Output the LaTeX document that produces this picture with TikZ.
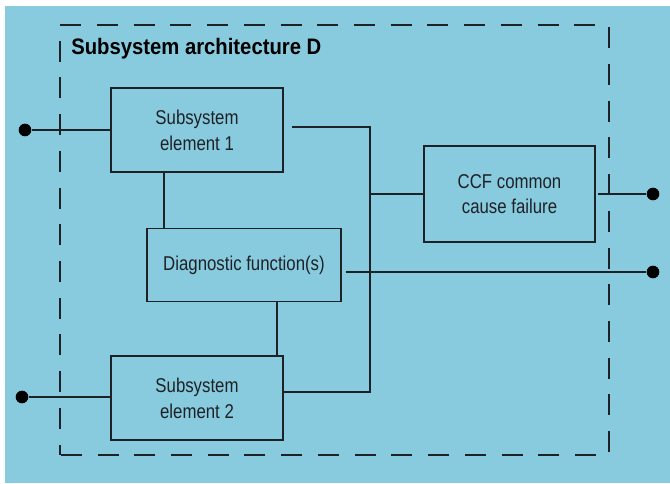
\documentclass[tikz,border=0pt]{standalone}
\usepackage{fontspec}
\setmainfont{Liberation Sans}[FakeStretch=0.84]
\newfontfamily\titlefont{Liberation Sans}[FakeStretch=0.905]
\definecolor{panelblue}{RGB}{136,203,222}
\definecolor{ink}{RGB}{30,34,38}

\begin{document}
\begin{tikzpicture}[x=0.75pt, y=-0.75pt,
    block/.style={draw=ink, line width=1pt, minimum width=#1, inner sep=0pt, align=center,
        text=ink, font=\fontsize{15}{19.3}\selectfont},
    wire/.style={draw=ink, line width=1pt},
    terminal/.style={circle, fill=black, inner sep=0pt, minimum size=9.5pt}]
    \fill[white] (0,0) rectangle (670,483);
    \fill[panelblue] (5,6) rectangle (670,483);

    % dashed boundary of the subsystem
    \draw[ink, line width=0.9pt, dash pattern=on 15.75pt off 11.8pt, dash phase=8pt]
        (60,455) -- (60,25) -- (609,25) -- (609,455) -- cycle;
    \node[anchor=base west, inner sep=0pt, text=black, font=\titlefont\bfseries\fontsize{16.8}{20}\selectfont]
        (title) at (71,54.5) {Subsystem architecture D};

    \node[block=129pt, minimum height=63pt] (elemA) at (197,130) {Subsystem\\element 1};
    \node[block=145.5pt, minimum height=55pt] (diag) at (244,265) {Diagnostic function(s)};
    \node[block=129pt, minimum height=63pt] (elemB) at (197,398) {Subsystem\\element 2};
    \node[block=128.25pt, minimum height=72pt] (ccf) at (509.5,194) {CCF common\\cause failure};

    \node[terminal] (inA) at (25,130) {};
    \node[terminal] (inB) at (22,397) {};
    \node[terminal] (outA) at (653,194) {};
    \node[terminal] (outB) at (653,272) {};

    \coordinate (jtop) at (370,127);
    \coordinate (jmid) at (370,194);
    \coordinate (jbot) at (370,392);
    \coordinate (vA) at (164,0);
    \coordinate (vB) at (277,0);

    \draw[wire] (inA) -- (elemA.west);
    \draw[wire] (inB) -- (elemB.west |- inB);
    \draw[wire, shorten <=6pt] (elemA.east |- jtop) -- (jtop) -- (jbot) -- (elemB.east |- jbot);
    \draw[wire] (jmid) -- (ccf.west);
    \draw[wire, shorten <=2pt] (ccf.east) -- (outA);
    \draw[wire, shorten <=3pt] (diag.east |- outB) -- (outB);
    \draw[wire] (elemA.south -| vA) -- (diag.north -| vA);
    \draw[wire] (diag.south -| vB) -- (elemB.north -| vB);
\end{tikzpicture}
\end{document}
